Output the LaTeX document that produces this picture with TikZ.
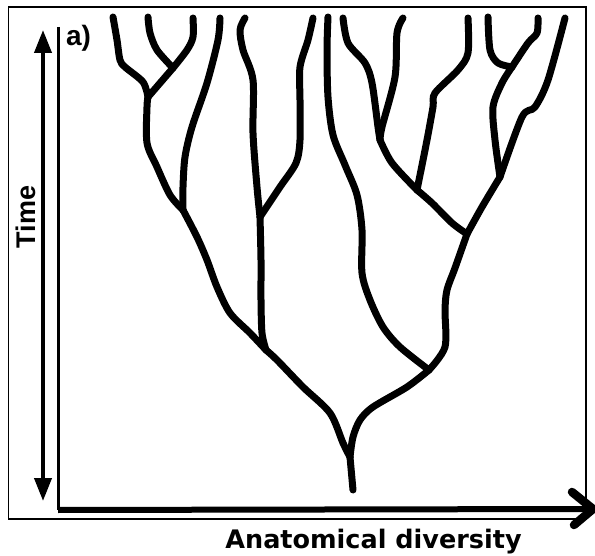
\documentclass[tikz,border=0pt]{standalone}
\usepackage{fontspec}
\newfontfamily\dejavu{DejaVu Sans}
\newfontfamily\libsans{Liberation Sans}
\usetikzlibrary{arrows.meta}
\begin{document}
\begin{tikzpicture}[x=1pt,y=-1pt,
  branch/.style={line width=7pt,line cap=round,line join=round},
  frameline/.style={line width=1.5pt},
  lbl/.style={inner sep=0pt,outer sep=0pt}]
\useasboundingbox (0,0) rectangle (595,556);
\fill[white] (0,0) rectangle (595,556);
% frame
\draw[frameline] (8.5,7) rectangle (586,519);
% axes
\coordinate (O) at (58,510);
\coordinate (Ytop) at (58,27);
\coordinate (Xend) at (590,509);
\coordinate (Ttop) at (43,30);
\coordinate (Tbot) at (43,501);
\coordinate (Cha) at (572,492);
\coordinate (Chb) at (593,509);
\coordinate (Chc) at (574,525);
\draw[line width=3pt] (Ytop) -- (O);
\draw[line width=6pt] (O) -- (Xend);
\draw[line width=8.5pt,line cap=round,line join=round] (Cha) -- (Chb) -- (Chc);
\draw[line width=4pt,{Triangle[length=23pt,width=17pt]}-{Triangle[length=23pt,width=17pt]}] (Ttop) -- (Tbot);
% labels
\node[lbl,anchor=base,rotate=90] (time) at (35,217) {\libsans\bfseries\fontsize{27}{30}\selectfont Time};
\node[lbl,anchor=base west] (a) at (66,46) {\libsans\bfseries\fontsize{28}{30}\selectfont a)};
\node[lbl,anchor=base] (xlab) at (373.5,548) {\dejavu\bfseries\fontsize{25.5}{30}\selectfont Anatomical diversity};
% junctions
\coordinate (R) at (353,490);
\coordinate (J0) at (350,457);
\coordinate (J5) at (266,350);
\coordinate (J6) at (429,370);
\coordinate (J3) at (183,210);
\coordinate (J4) at (260,217);
\coordinate (J1) at (148,97);
\coordinate (J2) at (173,68);
\coordinate (J7) at (467,234);
\coordinate (J8) at (380,140);
\coordinate (J9) at (417,190);
\coordinate (J10) at (500,177);
\coordinate (J11) at (512,67);
% branches
\draw[branch] (R) -- (J0);
\draw[branch] plot[smooth,tension=0.5] coordinates {(J0) (343,443) (330,413) (303,387) (277,360) (J5)};
\draw[branch] plot[smooth,tension=0.5] coordinates {(J0) (353,437) (360,420) (373,407) (407,387) (J6)};
\draw[branch] plot[smooth,tension=0.5] coordinates {(J5) (250,333) (230,313) (217,287) (207,260) (197,237) (J3)};
\draw[branch] plot[smooth,tension=0.5] coordinates {(J5) (262,333) (261,300) (261,260) (J4)};
\draw[branch] plot[smooth,tension=0.5] coordinates {(J4) (257,187) (253,133) (253,80) (243,50) (240,30) (245,18)};
\draw[branch] plot[smooth,tension=0.5] coordinates {(J4) (280,187) (296,163) (300,140) (300,100) (300,67) (308,40) (313,18)};
\draw[branch] plot[smooth,tension=0.5] coordinates {(J3) (170,195) (157,167) (147,143) (147,107) (J1)};
\draw[branch] plot[smooth,tension=0.5] coordinates {(J3) (183,187) (185,157) (192,127) (207,83) (218,40) (220,18)};
\draw[branch] plot[smooth,tension=0.5] coordinates {(J1) (143,82) (125,67) (120,60) (117,40) (113,17)};
\draw[branch] (J1) -- (J2);
\draw[branch] plot[smooth,tension=0.5] coordinates {(J2) (157,50) (150,33) (148,17)};
\draw[branch] plot[smooth,tension=0.5] coordinates {(J2) (187,50) (193,37) (193,18)};
\draw[branch] plot[smooth,tension=0.5] coordinates {(J6) (400,347) (383,327) (370,300) (362,273) (362,230) (357,195) (345,165) (333,135) (328,97) (327,50) (328,17)};
\draw[branch] plot[smooth,tension=0.5] coordinates {(J6) (445,347) (445,310) (447,290) (455,268) (J7)};
\draw[branch] plot[smooth,tension=0.5] coordinates {(J7) (452,223) (432,203) (J9)};
\draw[branch] plot[smooth,tension=0.5] coordinates {(J9) (392,163) (J8)};
\draw[branch] plot[smooth,tension=0.5] coordinates {(J8) (378,127) (372,83) (365,63) (348,43) (343,18)};
\draw[branch] plot[smooth,tension=0.5] coordinates {(J8) (382,127) (395,77) (397,33) (403,18)};
\draw[branch] plot[smooth,tension=0.5] coordinates {(J9) (427,140) (433,107) (435,93) (458,70) (468,53) (468,18)};
\draw[branch] plot[smooth,tension=0.5] coordinates {(J7) (482,207) (J10)};
\draw[branch] plot[smooth,tension=0.5] coordinates {(J10) (495,140) (493,107) (502,83) (J11)};
\draw[branch] plot[smooth,tension=0.5] coordinates {(J11) (498,63) (490,50) (488,17)};
\draw[branch] plot[smooth,tension=0.5] coordinates {(J11) (528,43) (537,33) (538,18)};
\draw[branch] plot[smooth,tension=0.5] coordinates {(J10) (522,117) (535,107) (548,80) (565,18)};
\end{tikzpicture}
\end{document}
